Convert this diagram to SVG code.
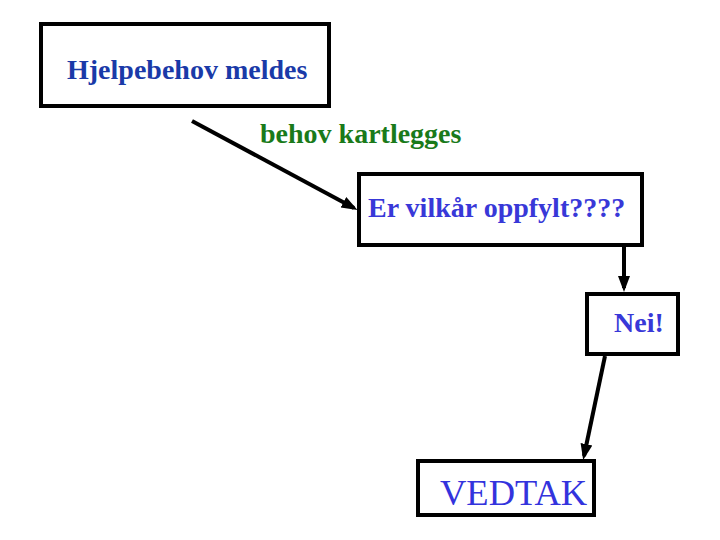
<svg xmlns="http://www.w3.org/2000/svg" width="720" height="540" viewBox="0 0 720 540">
<style>
.box{fill:#fff;stroke:#000;stroke-width:4}
.t{font-family:"Liberation Serif","Times New Roman",serif;font-weight:bold;font-size:28px}
.conn{stroke:#000;stroke-width:4;fill:none;marker-end:url(#ah)}
</style>
<defs>
<marker id="ah" markerWidth="4" markerHeight="4" refX="3" refY="2" orient="auto" markerUnits="strokeWidth">
<path d="M0,0.5 L4,2 L0,3.5 Z" fill="#000"/>
</marker>
</defs>
<rect width="720" height="540" fill="#fff"/>
<g id="connectors">
<line class="conn" x1="192" y1="121" x2="354" y2="208"/>
<line class="conn" x1="624" y1="245" x2="624" y2="288"/>
<line class="conn" x1="605" y1="356" x2="584" y2="456"/>
</g>
<g id="n1">
<rect class="box" x="41" y="24" width="288" height="82"/>
<text class="t" x="67" y="79" fill="#1a3aa8">Hjelpebehov meldes</text>
</g>
<g id="lbl">
<text class="t" x="260" y="143" fill="#1a7a1a">behov kartlegges</text>
</g>
<g id="n2">
<rect class="box" x="359" y="174" width="283" height="71"/>
<text class="t" x="368" y="217" fill="#3838d8">Er vilkår oppfylt????</text>
</g>
<g id="n3">
<rect class="box" x="587" y="294" width="91" height="60"/>
<text class="t" x="614" y="332" fill="#3838d8" font-size="26.5">Nei!</text>
</g>
<g id="n4">
<rect class="box" x="418" y="461" width="176" height="54"/>
<text x="440" y="505" fill="#3333dd" font-family="Liberation Serif,'Times New Roman',serif" font-size="36.5">VEDTAK</text>
</g>
</svg>
